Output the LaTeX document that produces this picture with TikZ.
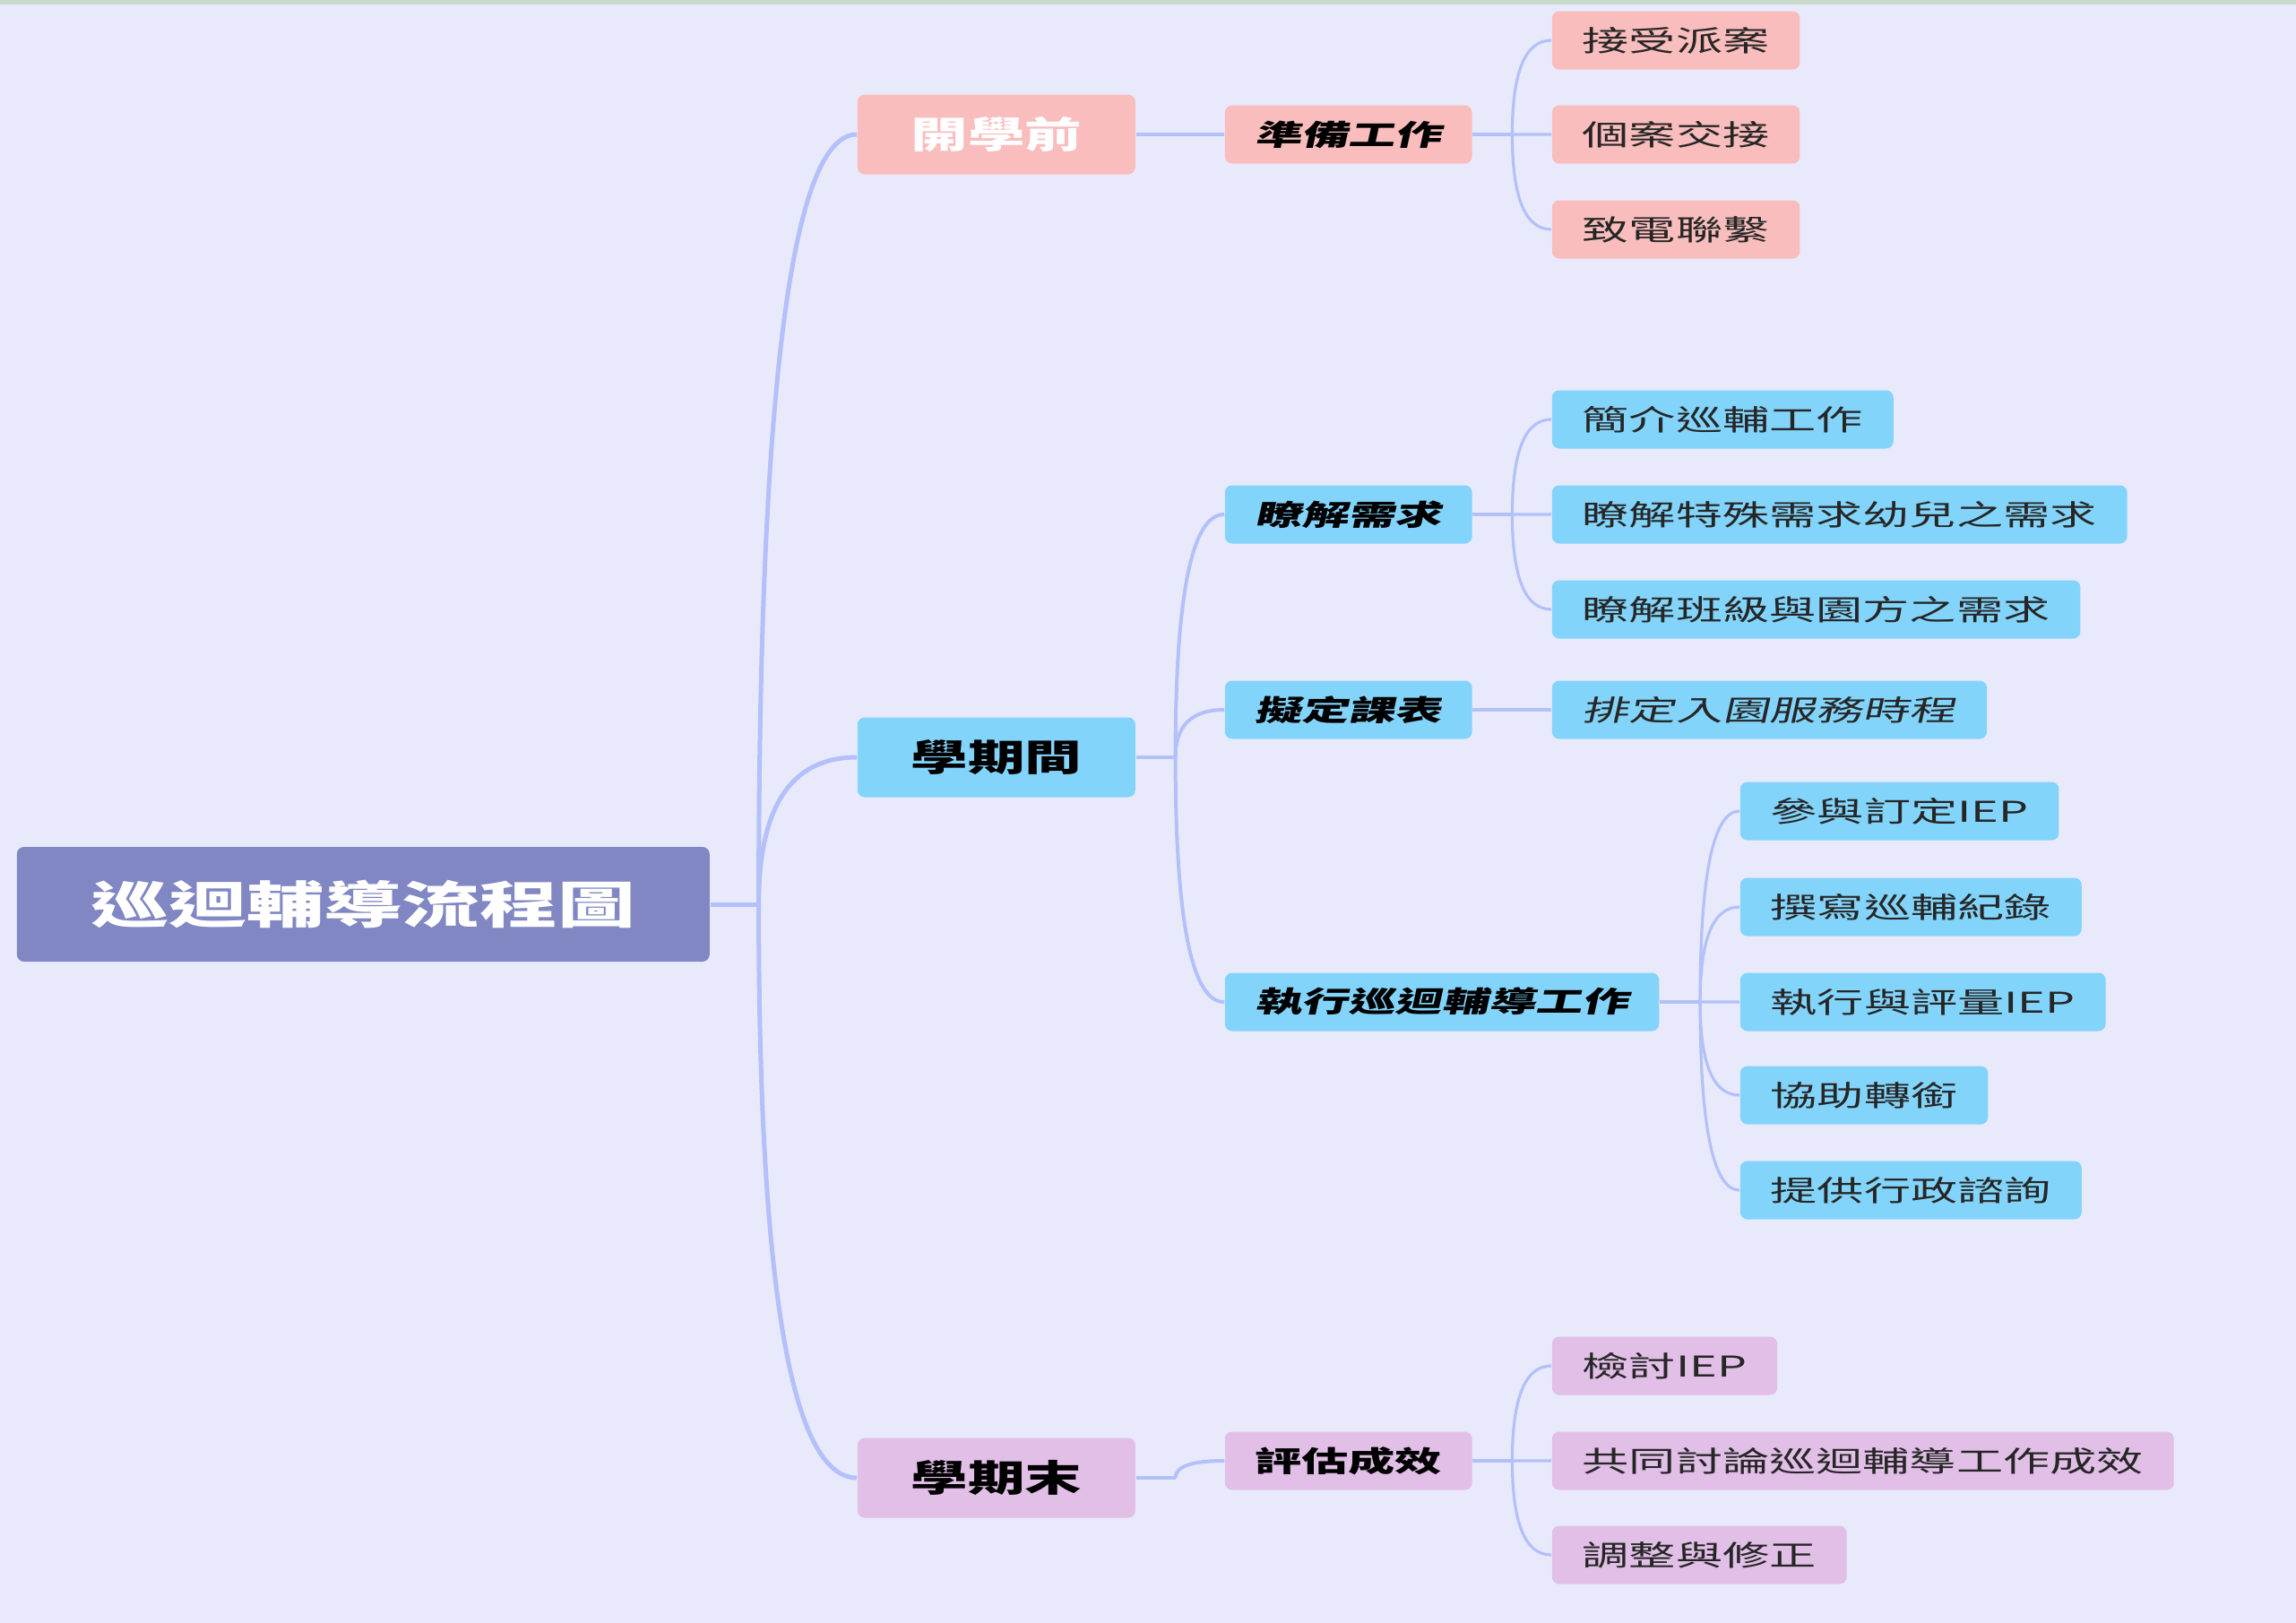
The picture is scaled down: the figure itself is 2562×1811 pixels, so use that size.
\documentclass[tikz,border=0pt]{standalone}
\usepackage{fontspec}
\newfontfamily\cjk[FakeStretch=1.55]{Noto Sans CJK TC}
\newfontfamily\cjkw[FakeStretch=1.63]{Noto Sans CJK TC}
\newfontfamily\cjksl[FakeStretch=1.63,FakeSlant=0.22]{Noto Sans CJK TC}
\usetikzlibrary{calc}
\definecolor{bgc}{HTML}{E8EAFC}
\definecolor{stripc}{HTML}{C9D9CB}
\definecolor{rootc}{HTML}{8087C3}
\definecolor{pinkc}{HTML}{F9BDBD}
\definecolor{cyanc}{HTML}{83D4FA}
\definecolor{lilac}{HTML}{E1BFE7}
\definecolor{linec}{HTML}{B3C0FA}
\tikzset{
  box/.style={anchor=west, rounded corners=2pt, inner ysep=0pt, text=black!85},
  rootbox/.style={box, fill=rootc, text=white, minimum width=193.25pt, minimum height=32pt,
    font=\cjk\bfseries\fontsize{14pt}{16pt}\selectfont},
  phase/.style={box, minimum width=77.5pt, minimum height=22.25pt, text=black,
    font=\cjk\bfseries\fontsize{10.25pt}{12pt}\selectfont},
  task/.style={box, inner xsep=8.4pt, minimum height=16.25pt, text=black,
    font=\cjksl\bfseries\fontsize{8pt}{10pt}\selectfont},
  leaf/.style={box, inner xsep=8.5pt, minimum height=16.25pt,
    font=\cjkw\fontsize{8pt}{10pt}\selectfont},
  trunk/.style={draw=linec, line width=1.25pt},
  limb/.style={draw=linec, line width=1pt},
  twig/.style={draw=linec, line width=0.8pt},
  branch/.style={to path={.. controls ($(\tikztostart)!.667!(\tikztostart|-\tikztotarget)$)
    and ($(\tikztotarget)!.667!(\tikztostart|-\tikztotarget)$) .. (\tikztotarget)}}
}
\begin{document}
\begin{tikzpicture}[x=0.25pt, y=-0.25pt]
\fill[bgc] (0,0) rectangle (2562,1811);
\useasboundingbox (0,0) rectangle (2562,1811);
\fill[stripc] (0,0) rectangle (2562,5);

\node[rootbox] (root) at (18,1009) {巡迴輔導流程圖};
\node[phase, fill=pinkc, text=white] (pre) at (956,150) {開學前};
\node[phase, fill=cyanc] (mid) at (956,845) {學期間};
\node[phase, fill=lilac] (fin) at (956,1649) {學期末};

\coordinate (j0) at ($(root.east)+(54,0)$);
\draw[trunk] (root.east) -- (j0);
\foreach \n in {pre,mid,fin} \draw[trunk] (j0) to[branch] (\n.west);

\node[task, fill=pinkc] (prep) at (1366,150) {準備工作};
\node[task, fill=cyanc] (need) at (1366,574) {瞭解需求};
\node[task, fill=cyanc] (plan) at (1366,792) {擬定課表};
\node[task, fill=cyanc] (exec) at (1366,1118) {執行巡迴輔導工作};
\node[task, fill=lilac, font=\cjkw\bfseries\fontsize{8pt}{10pt}\selectfont] (eval) at (1366,1630) {評估成效};

\draw[limb] (pre.east) -- (prep.west);
\coordinate (j1a) at ($(mid.east)+(44,0)$);
\coordinate (j1b) at ($(fin.east)+(44,0)$);
\draw[limb] (mid.east) -- (j1a);
\draw[limb] (fin.east) -- (j1b);
\foreach \n in {need,plan,exec} \draw[limb] (j1a) to[branch] (\n.west);
\draw[limb] (j1b) to[branch] (eval.west);

\coordinate (j2a) at ($(prep.east)+(44,0)$);
\coordinate (j2b) at ($(need.east)+(44,0)$);
\coordinate (j2c) at ($(exec.east)+(45,0)$);
\coordinate (j2d) at ($(eval.east)+(44,0)$);
\draw[twig] (prep.east) -- (j2a);
\draw[twig] (need.east) -- (j2b);
\draw[twig] (exec.east) -- (j2c);
\draw[twig] (eval.east) -- (j2d);

\foreach \n/\y/\t in {a1/45/接受派案, a2/150/個案交接, a3/256/致電聯繫} {
  \node[leaf, fill=pinkc] (\n) at (1731,\y) {\t};
  \draw[twig] (j2a) to[branch] (\n.west);
}
\foreach \n/\y/\t in {b1/468/簡介巡輔工作, b2/574/瞭解特殊需求幼兒之需求, b3/680/瞭解班級與園方之需求} {
  \node[leaf, fill=cyanc] (\n) at (1731,\y) {\t};
  \draw[twig] (j2b) to[branch] (\n.west);
}
\node[leaf, fill=cyanc, font=\cjksl\fontsize{8pt}{10pt}\selectfont] (c1) at (1731,792) {排定入園服務時程};
\draw[twig] (plan.east) -- (c1.west);
\foreach \n/\y/\t in {d1/905/參與訂定IEP, d2/1012/撰寫巡輔紀錄, d3/1118/執行與評量IEP, d4/1222/協助轉銜, d5/1328/提供行政諮詢} {
  \node[leaf, fill=cyanc] (\n) at (1941,\y) {\t};
  \draw[twig] (j2c) to[branch] (\n.west);
}
\foreach \n/\y/\t in {e1/1524/檢討IEP, e2/1630/共同討論巡迴輔導工作成效, e3/1735/調整與修正} {
  \node[leaf, fill=lilac] (\n) at (1731,\y) {\t};
  \draw[twig] (j2d) to[branch] (\n.west);
}
\end{tikzpicture}
\end{document}
